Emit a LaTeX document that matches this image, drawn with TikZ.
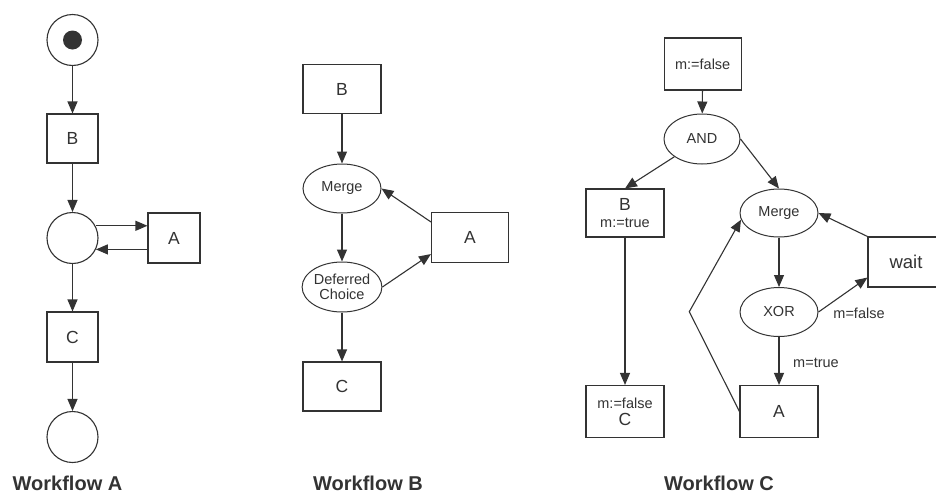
\documentclass[tikz,border=0pt]{standalone}
\usepackage{fontspec}
\setmainfont{Liberation Sans}
\usetikzlibrary{shapes.geometric,arrows.meta,calc}
\definecolor{ink}{gray}{0.2}
\tikzset{
  arr/.style={draw=ink,line width=1.1pt,-{Triangle[length=12pt,width=10pt]}},
  line/.style={draw=ink,line width=1.1pt},
  boxn/.style={draw=ink,line width=1.1pt,rectangle,inner sep=0pt,text=ink,
    font=\fontsize{17.5}{20}\selectfont,align=center},
  elln/.style={draw=ink,line width=1pt,ellipse,inner sep=0pt,text=ink,
    minimum width=78pt,minimum height=49pt,
    font=\fontsize{14.5}{17}\selectfont,align=center},
  placen/.style={draw=ink,line width=1.1pt,circle,inner sep=0pt,minimum size=51pt},
  tokenn/.style={fill=ink,circle,inner sep=0pt,minimum size=19pt},
  lbl/.style={text=ink,font=\fontsize{14.5}{17}\selectfont,inner sep=0pt},
  titlen/.style={text=ink,font=\fontsize{20}{24}\bfseries\selectfont,inner sep=0pt,anchor=base}
}
\newcommand{\smalltxt}{\fontsize{14.5}{17}\selectfont}
\begin{document}
\begin{tikzpicture}[x=1pt,y=-1pt]
\clip (0,0) rectangle (936,493);
\fill[white] (0,0) rectangle (936,493);
% ---------------- Workflow A ----------------
\node[placen] (startp) at (72.5,40) {};
\node[tokenn] (tok) at (72.5,40) {};
\node[boxn,minimum width=51pt,minimum height=49pt] (bA) at (72.5,138.5) {B};
\node[placen] (midp) at (72.5,238) {};
\node[boxn,minimum width=52pt,minimum height=50pt] (aA) at (174,238) {A};
\node[boxn,minimum width=51pt,minimum height=50pt] (cA) at (72.5,337) {C};
\node[placen] (endp) at (72.5,437) {};
\draw[arr] (startp) -- (bA);
\draw[arr] (bA) -- (midp);
\draw[arr] (midp.28) -- (aA.west |- midp.28);
\draw[arr] (aA.west |- midp.-26) -- (midp.-26);
\draw[arr] (midp) -- (cA);
\draw[arr] (cA) -- (endp);
\node[titlen] (tA) at (67.5,490) {Workflow A};
% ---------------- Workflow B ----------------
\node[boxn,minimum width=78pt,minimum height=49pt] (bB) at (342,89) {B};
\node[elln] (merB) at (342,188.5) {Merge};
\node[elln,minimum height=50pt] (defB) at (342,287) {Deferred\\[-2pt]Choice};
\node[boxn,minimum width=77pt,minimum height=50pt] (aB) at (470,237.5) {A};
\node[boxn,minimum width=78pt,minimum height=49pt] (cB) at (342,386.5) {C};
\draw[arr] (bB) -- (merB);
\draw[arr] (merB) -- (defB);
\draw[arr] (defB) -- (cB);
\draw[arr] ([yshift=-10pt]aB.north west) -- (merB.east);
\draw[arr] (defB.east) -- ([yshift=9pt]aB.south west);
\node[titlen] (tB) at (368,490) {Workflow B};
% ---------------- Workflow C ----------------
\node[boxn,minimum width=77pt,minimum height=52pt,font=\smalltxt] (mf) at (702.7,64) {m:=false};
\node[elln,minimum width=76pt,minimum height=50pt] (andC) at (702,139) {AND};
\node[boxn,minimum width=78pt,minimum height=48pt] (bC) at (625,213) {B\\[-3pt]{\smalltxt m:=true}};
\node[elln,minimum height=48pt] (merC) at (779,213) {Merge};
\node[boxn,minimum width=76pt,minimum height=50pt,font=\fontsize{18.5}{21}\selectfont] (waitC) at (906,262) {wait};
\node[elln] (xorC) at (779,312) {XOR};
\node[boxn,minimum width=78pt,minimum height=52pt] (aC) at (779,411.5) {A};
\node[boxn,minimum width=78pt,minimum height=52pt] (cC) at (625,411.5) {{\smalltxt m:=false}\\[-3pt]C};
\coordinate (cornerC) at (689.3,311.7);
\draw[arr] (mf) -- (andC);
\draw[arr] (andC) -- (bC.north);
\draw[arr] (andC.east) -- (merC.north);
\draw[arr] (bC) -- (cC);
\draw[arr] (merC) -- (xorC);
\draw[arr] (xorC) -- (aC);
\draw[arr] (xorC.east) -- ([yshift=10pt]waitC.south west);
\draw[arr] (waitC.north west) -- (merC.east);
\draw[arr] (aC.west) -- (cornerC) -- (merC.190);
\node[lbl] (lf) at (859,313) {m=false};
\node[lbl] (lt) at (816,363) {m=true};
\node[titlen] (tC) at (719,490) {Workflow C};
\end{tikzpicture}
\end{document}
